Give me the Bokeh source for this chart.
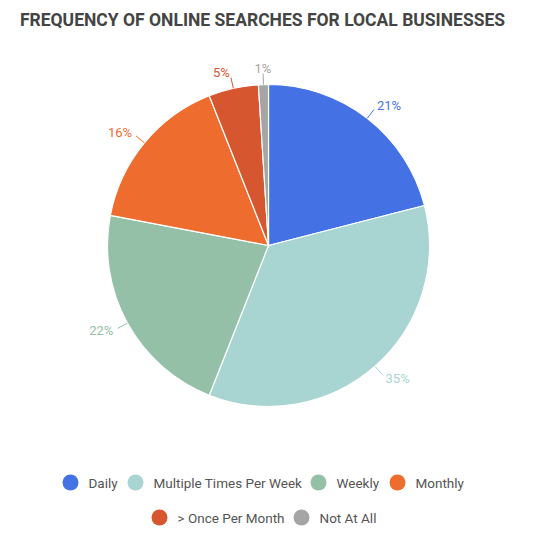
import math
from bokeh.plotting import figure
from bokeh.models import ColumnDataSource, Range1d
from bokeh.core.properties import value
from bokeh.embed import file_html
from bokeh.resources import INLINE

# ---- data ----
title_text = "FREQUENCY OF ONLINE SEARCHES FOR LOCAL BUSINESSES"
categories = ["Daily", "Multiple Times Per Week", "Weekly", "Monthly",
              "> Once Per Month", "Not At All"]
percents = [21, 35, 22, 16, 5, 1]
colors = ["#4472e4", "#a8d5d1", "#93c0a6", "#ee6c2d", "#d5562f", "#a5a5a5"]

# ---- layout ----
W, H = 517, 528
CX, CY, R = 268, 283, 161
legend_rows = [[0, 1, 2, 3], [4, 5]]
legend_x = [[70, 135, 318, 397], [159, 301]]
legend_y = [46, 11]

p = figure(width=W, height=H, output_backend="svg", toolbar_location=None,
           x_axis_type=None, y_axis_type=None, min_border=0,
           x_range=Range1d(0, W), y_range=Range1d(0, H))
p.outline_line_color = None
p.grid.visible = False
p.background_fill_color = "white"

total = float(sum(percents))
starts, ends, mids = [], [], []
c = 0.0
for v in percents:
    c0 = c / total
    c += v
    c1 = c / total
    starts.append(math.pi / 2 - 2 * math.pi * c1)
    ends.append(math.pi / 2 - 2 * math.pi * c0)
    mids.append(2 * math.pi * (c0 + c1) / 2)  # clockwise from top

src = ColumnDataSource(dict(start=starts, end=ends, color=colors, cat=categories))
p.wedge(x=CX, y=CY, radius=R, start_angle="start", end_angle="end",
        fill_color="color", line_color="white", line_width=1.2, source=src)

# labels with leader lines
lx0, ly0, lx1, ly1, tx, ty, ta, lt = [], [], [], [], [], [], [], []
for v, th in zip(percents, mids):
    s, co = math.sin(th), math.cos(th)
    lx0.append(CX + R * s); ly0.append(CY + R * co)
    lx1.append(CX + (R + 11) * s); ly1.append(CY + (R + 11) * co)
    tx.append(CX + (R + 16) * s); ty.append(CY + (R + 16) * co)
    ta.append("left" if s > 0.1 else ("right" if s < -0.1 else "center"))
    lt.append(f"{v}%")
p.segment(x0=lx0, y0=ly0, x1=lx1, y1=ly1, line_color=colors, line_width=1)
lsrc = ColumnDataSource(dict(x=tx, y=ty, t=lt, a=ta, c=colors))
p.text(x="x", y="y", text="t", text_align="a", text_baseline="middle",
       text_color="c", text_font=value("Roboto"), text_font_size="13px",
       source=lsrc)

# title
p.text(x=[262], y=[H - 19], text=[title_text], text_align="center",
       text_baseline="middle", text_color="#444444", text_font=value("Roboto"),
       text_font_size="17.5px", text_font_style="bold")

# legend
for row, xs, y in zip(legend_rows, legend_x, legend_y):
    p.scatter(x=xs, y=[y] * len(xs), size=16, marker="circle",
              fill_color=[colors[i] for i in row], line_color=None)
    p.text(x=[x + 18 for x in xs], y=[y] * len(xs),
           text=[categories[i] for i in row], text_align="left",
           text_baseline="middle", text_color="#555555",
           text_font=value("Roboto"), text_font_size="13.5px")

open("out.html", "w").write(file_html(p, INLINE))
